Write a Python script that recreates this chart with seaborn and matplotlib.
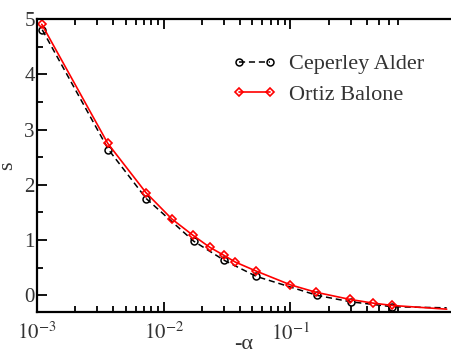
import numpy as np
import pandas as pd
import matplotlib
matplotlib.use("Agg")
import matplotlib.pyplot as plt
import seaborn as sns
from matplotlib.ticker import FixedLocator, NullFormatter, MultipleLocator

# -alpha values and s values
alpha_ca = [0.00110, 0.00366, 0.00728, 0.0172, 0.0301, 0.0538, 0.163, 0.298, 0.637, 1.71]
s_ca = [4.81, 2.64, 1.75, 0.98, 0.63, 0.34, -0.005, -0.12, -0.21, -0.23]

alpha_ob = [0.00109, 0.00362, 0.00723, 0.0116, 0.0169, 0.0230, 0.0297, 0.0367,
            0.0532, 0.100, 0.158, 0.296, 0.451, 0.637, 1.71]
s_ob = [4.91, 2.75, 1.86, 1.38, 1.09, 0.87, 0.725, 0.60, 0.44, 0.187, 0.054,
        -0.078, -0.145, -0.187, -0.254]

labels = ["Ceperley Alder", "Ortiz Balone"]

sns.set_style("ticks")
plt.rcParams["font.family"] = ["Liberation Serif", "DejaVu Serif"]
plt.rcParams["mathtext.fontset"] = "stix"
plt.rcParams["font.size"] = 15

fig = plt.figure(figsize=(4.51, 3.54), dpi=100)
ax = fig.add_axes([37 / 451, (354 - 311.7) / 354, 1 - 37 / 451, (311.7 - 19.3) / 354])

df_ca = pd.DataFrame({"alpha": alpha_ca, "s": s_ca})
df_ob = pd.DataFrame({"alpha": alpha_ob, "s": s_ob})

sns.lineplot(data=df_ca, x="alpha", y="s", ax=ax, color="black", linestyle=(0, (4, 2.5)),
             linewidth=1.1, marker="o", markersize=5, markerfacecolor="none",
             markeredgecolor="black", markeredgewidth=1.1,
             markevery=list(range(len(alpha_ca) - 1)), label=labels[0])
sns.lineplot(data=df_ob, x="alpha", y="s", ax=ax, color="red", linestyle="-",
             linewidth=1.2, marker="D", markersize=4, markerfacecolor="none",
             markeredgecolor="red", markeredgewidth=1.2,
             markevery=list(range(len(alpha_ob) - 1)), label=labels[1])

ax.set_xscale("log")
ax.set_xlim(1e-3, 1.85)
ax.set_ylim(-0.3, 5)

ax.xaxis.set_major_locator(FixedLocator([1e-3, 1e-2, 1e-1]))
ax.set_xticklabels([r"$10^{-3}$", r"$10^{-2}$", r"$10^{-1}$"])
minor = [m * d for d in [1e-3, 1e-2] for m in range(2, 10)] + [m * 0.1 for m in range(2, 8)]
ax.xaxis.set_minor_locator(FixedLocator(minor))
ax.xaxis.set_minor_formatter(NullFormatter())
ax.yaxis.set_major_locator(MultipleLocator(1))
ax.yaxis.set_minor_locator(MultipleLocator(0.5))

ax.tick_params(which="both", direction="in", top=True, right=False, width=1.3,
               labelsize=15, colors="black", labelcolor="#333333")
ax.tick_params(which="major", length=7)
ax.tick_params(which="minor", length=4)
ax.tick_params(axis="y", which="major", pad=1.5)
ax.tick_params(axis="x", which="major", pad=8)
for side in ["left", "bottom", "top"]:
    ax.spines[side].set_linewidth(1.6)
    ax.spines[side].set_color("black")
ax.spines["right"].set_visible(False)

ax.set_xlabel("-α", fontsize=16, color="#333333", labelpad=-7)
ax.set_ylabel("s", fontsize=16, color="#333333", labelpad=5)

ax.legend(loc="upper left", bbox_to_anchor=(0.424, 0.95), frameon=False, fontsize=16,
          numpoints=2, handlelength=2.0, handletextpad=0.55, labelspacing=0.45,
          labelcolor="#333333")

fig.savefig("out.png", dpi=100)
